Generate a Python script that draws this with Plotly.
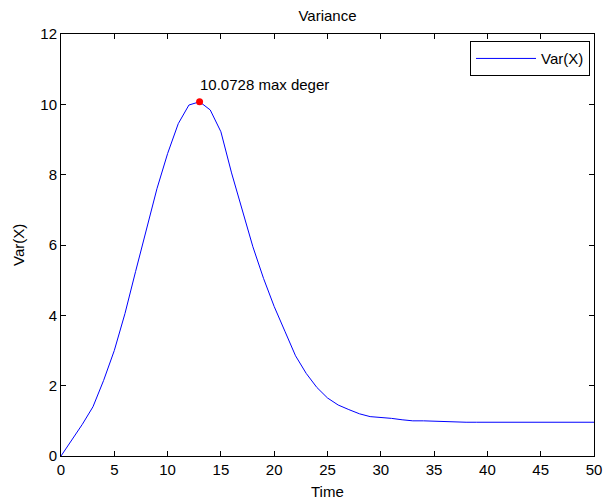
import plotly.graph_objects as go

# Variance of X over time
time = list(range(0, 51))
var_x = [0.0, 0.45, 0.9, 1.4, 2.15, 3.0, 4.05, 5.25, 6.45, 7.6,
         8.6, 9.45, 9.98, 10.0728, 9.84, 9.22, 8.05, 7.0, 5.95, 5.05,
         4.25, 3.55, 2.85, 2.35, 1.95, 1.65, 1.45, 1.32, 1.2, 1.12,
         1.1, 1.07, 1.03, 1.0, 1.0, 0.99, 0.96, 0.96, 0.96, 0.96,
         0.96, 0.96, 0.96, 0.96, 0.96, 0.96, 0.96, 0.96, 0.96, 0.96,
         0.96]

x_ticks = [0, 5, 10, 15, 20, 25, 30, 35, 40, 45, 50]
y_ticks = [0, 2, 4, 6, 8, 10, 12]

# location of the maximum
i_max = max(range(len(var_x)), key=lambda i: var_x[i])
t_max, v_max = time[i_max], var_x[i_max]

font_family = "Liberation Sans, Arial, sans-serif"
fs = 15
txt = dict(size=fs, color="black", family=font_family)

fig = go.Figure()
fig.add_trace(go.Scatter(
    x=time, y=var_x, mode="lines", name="Var(X)",
    line=dict(color="#0000ff", width=1),
))
fig.add_trace(go.Scatter(
    x=[t_max], y=[v_max], mode="markers", showlegend=False,
    marker=dict(color="#ff0000", size=7),
))
fig.add_annotation(
    x=t_max, y=v_max + 0.5, text=f"{v_max:g} max deger",
    showarrow=False, xanchor="left", yanchor="middle",
    xshift=-2, font=txt,
)

# axis titles
fig.add_annotation(x=0.5, y=-0.083, xref="paper", yref="paper",
                   text="Time", showarrow=False,
                   xanchor="center", yanchor="middle", font=txt)
fig.add_annotation(x=-0.0807, y=0.5, xref="paper", yref="paper",
                   text="Var(X)", showarrow=False, textangle=-90,
                   xanchor="center", yanchor="middle", font=txt)

axis_common = dict(
    showline=True, linecolor="black", linewidth=1, mirror="ticks",
    ticks="inside", ticklen=5, tickcolor="black", tickwidth=1,
    showgrid=False, zeroline=False, automargin=False,
    tickfont=txt,
)

fig.update_layout(
    width=605, height=500,
    margin=dict(l=61, r=11, t=34, b=44),
    paper_bgcolor="white", plot_bgcolor="white",
    title=dict(text="Variance", x=0.5413, xanchor="center", y=0.968,
               yanchor="middle", font=txt),
    xaxis=dict(range=[0, 50], tickvals=x_ticks, **axis_common),
    yaxis=dict(range=[0, 12], tickvals=y_ticks, **axis_common),
    legend=dict(x=0.9925, y=0.983, xanchor="right", yanchor="top",
                bordercolor="black", borderwidth=1, bgcolor="white",
                itemwidth=60, font=txt),
    showlegend=True,
)

fig.write_html("out.html")
